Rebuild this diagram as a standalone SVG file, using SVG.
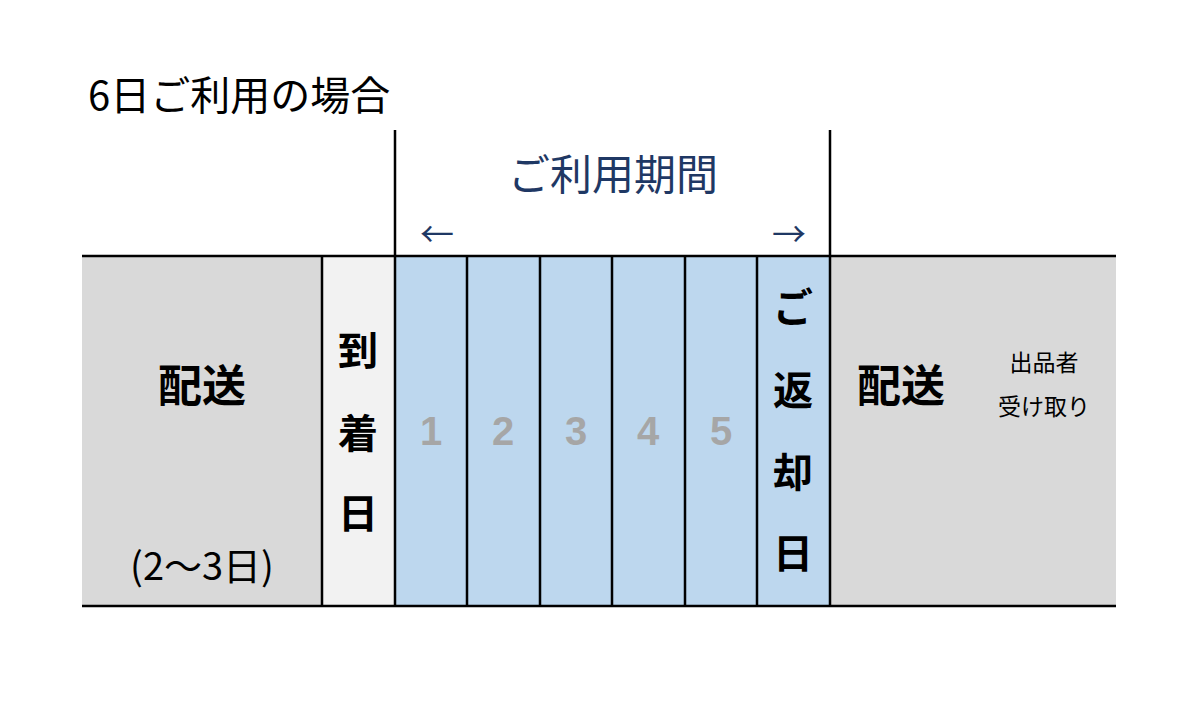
<svg xmlns="http://www.w3.org/2000/svg" width="1200" height="726" viewBox="0 0 1200 726">
<style>
text{font-family:"Noto Sans CJK JP","Noto Sans",sans-serif}
.b{font-weight:bold;fill:#000}
.n{fill:#a6a6a6;font-weight:bold;font-size:40px;text-anchor:middle;font-family:"Liberation Sans","Noto Sans",sans-serif}
.l{stroke:#000;stroke-width:2.5;fill:none}
.bl{fill:#1f3864}
</style>
<rect width="1200" height="726" fill="#fff"/>
<text x="88" y="110" font-size="40" fill="#000">6日ご利用の場合</text>
<g id="period">
<text x="613" y="190" font-size="42" class="bl" text-anchor="middle">ご利用期間</text>
<text x="437" y="247" font-size="34" class="bl" text-anchor="middle">←</text>
<text x="789" y="247" font-size="34" class="bl" text-anchor="middle">→</text>
</g>
<g id="delivery1"><rect x="82" y="256" width="240" height="350" fill="#d9d9d9"/>
<text x="202" y="402" font-size="44" class="b" text-anchor="middle">配送</text>
<text x="202" y="580" font-size="38" text-anchor="middle" fill="#000">(2～3日)</text></g>
<g id="arrival"><rect x="322" y="256" width="73" height="350" fill="#f2f2f2"/>
<text x="358" y="365" font-size="40" class="b" text-anchor="middle">到</text>
<text x="358" y="448" font-size="40" class="b" text-anchor="middle">着</text>
<text x="358" y="528" font-size="40" class="b" text-anchor="middle">日</text></g>
<g id="days">
<rect x="395" y="256" width="435" height="350" fill="#bdd7ee"/>
<text x="431" y="445" class="n">1</text>
<text x="503" y="445" class="n">2</text>
<text x="576" y="445" class="n">3</text>
<text x="648" y="445" class="n">4</text>
<text x="721" y="445" class="n">5</text>
</g>
<g id="return">
<text x="793" y="322" font-size="40" class="b" text-anchor="middle">ご</text>
<text x="793" y="405" font-size="40" class="b" text-anchor="middle">返</text>
<text x="793" y="487" font-size="40" class="b" text-anchor="middle">却</text>
<text x="793" y="568" font-size="40" class="b" text-anchor="middle">日</text></g>
<g id="delivery2"><rect x="830" y="256" width="286" height="350" fill="#d9d9d9"/>
<text x="901" y="402" font-size="44" class="b" text-anchor="middle">配送</text>
<text x="1044" y="371" font-size="23" text-anchor="middle" fill="#000">出品者</text>
<text x="1044" y="415" font-size="23" text-anchor="middle" fill="#000">受け取り</text></g>
<g id="connectors">
<path class="l" d="M395 130V606M830 130V606M82 256H1116M82 606H1116M322 256V606M467 256V606M540 256V606M612 256V606M685 256V606M757 256V606"/>
</g>
</svg>
